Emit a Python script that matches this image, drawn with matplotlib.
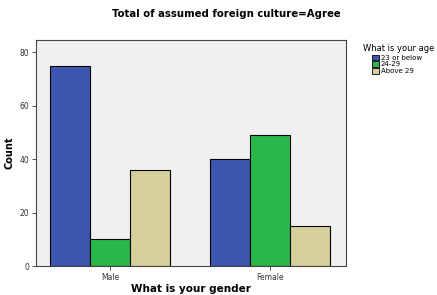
import matplotlib.pyplot as plt
import numpy as np
from matplotlib.patches import Patch

# data
genders = ['Male', 'Female']
age_groups = ['23 or below', '24-29', 'Above 29']
counts_young = [75, 40]
counts_mid = [10, 49]
counts_old = [36, 15]
colors = ['#3c56ad', '#2bb84a', '#d5d09b']

fig = plt.figure(figsize=(4.37, 2.95), dpi=100)
ax = fig.add_axes([0.082, 0.098, 0.710, 0.766])
ax.set_facecolor('#f0f0f0')

x = np.arange(len(genders))
w = 0.25
series = [counts_young, counts_mid, counts_old]
for i, vals in enumerate(series):
    ax.bar(x + (i - 1) * w, vals, w, color=colors[i], edgecolor='black', linewidth=0.8)

ax.set_xlim(-0.4625, 1.475)
ax.set_ylim(0, 84.5)
ax.set_yticks([0, 20, 40, 60, 80])
ax.set_xticks(x)
ax.set_xticklabels(genders)
ax.tick_params(labelsize=5.5, length=3, width=0.6, colors='#333333', pad=2)
for s in ax.spines.values():
    s.set_linewidth(0.8)
    s.set_color('#444444')

ax.set_ylabel('Count', fontsize=7, fontweight='bold', labelpad=3)
fig.text(0.437, 0.02, 'What is your gender', ha='center', va='center',
         fontsize=7.5, fontweight='bold')
fig.text(0.518, 0.952, 'Total of assumed foreign culture=Agree', ha='center', va='center',
         fontsize=7.3, fontweight='bold')

# legend
fig.text(0.831, 0.836, 'What is your age', fontsize=6, va='center', ha='left')
handles = [Patch(facecolor=c, edgecolor='black', linewidth=0.6, label=l) for c, l in zip(colors, age_groups)]
fig.legend(handles=handles, loc='upper left', bbox_to_anchor=(0.852, 0.815), frameon=False,
           fontsize=5, handlelength=1.0, handleheight=0.9, handletextpad=0.2,
           labelspacing=0.05, borderaxespad=0, borderpad=0)

fig.savefig('out.png', dpi=100)
